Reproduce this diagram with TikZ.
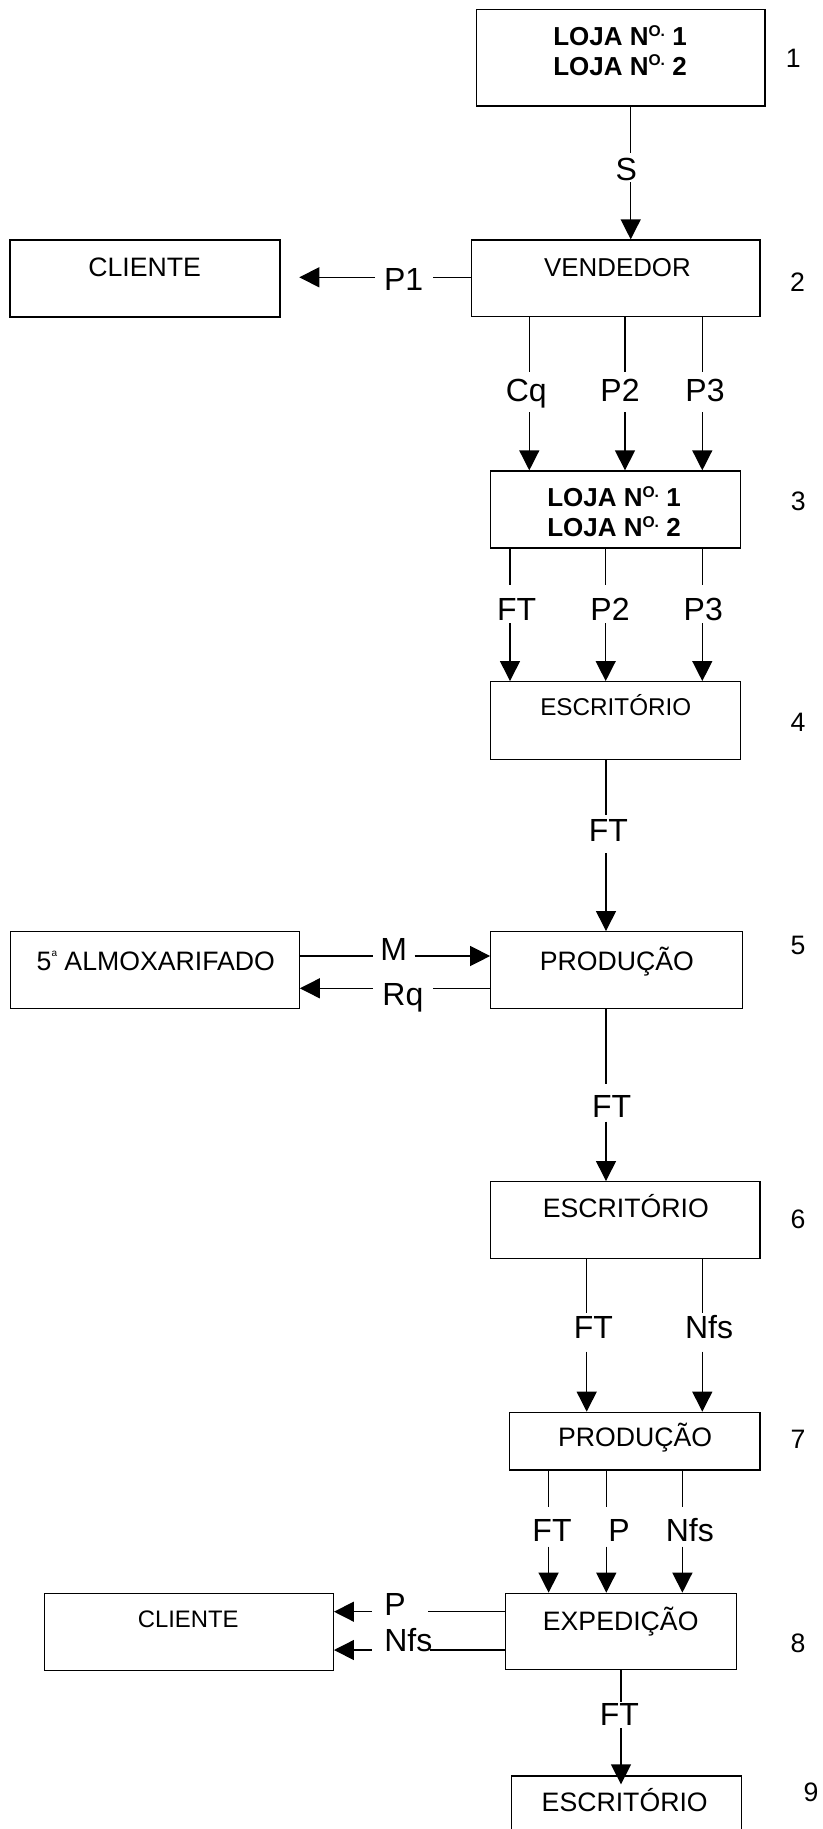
\documentclass[tikz,border=0pt]{standalone}
\usepackage{fontspec}
\setmainfont{Liberation Sans}
\usetikzlibrary{arrows.meta,fit}
\newcommand\nsup[1]{\raisebox{0.35em}{\fontsize{11.7pt}{12pt}\selectfont #1}}
\newcommand\ordsup[1]{\raisebox{0.52em}{\fontsize{7.5pt}{8pt}\selectfont #1}}
\begin{document}
\begin{tikzpicture}[x=0.75pt,y=-0.75pt,
  box/.style={draw, line width=1pt, inner sep=0pt, rectangle},
  wire/.style={line width=1pt},
  arr/.style={line width=1pt, -{Triangle[width=15pt,length=15pt]}},
  btxt/.style={inner sep=0pt, anchor=base, font=\fontsize{20pt}{24pt}\selectfont},
  ltxtb/.style={inner sep=0pt, anchor=base, font=\bfseries\fontsize{19.5pt}{22pt}\selectfont},
  ltxt/.style={inner sep=0pt, anchor=base, font=\fontsize{24pt}{28pt}\selectfont},
  ntxt/.style={inner sep=0pt, anchor=center, font=\fontsize{20pt}{24pt}\selectfont}]
\useasboundingbox (0,0) rectangle (823,1829);

% ---------- boxes ----------
\node[box, fit={(476.7,9.3) (765,106)}] (b1) {};
\node[box, fit={(471.7,240) (760,316.7)}] (b2) {};
\node[box, fit={(10,240) (280,317)}] (cl1) {};
\node[box, fit={(490.7,471) (740.7,548)}] (b3) {};
\node[box, fit={(490.7,681.7) (740.7,759.3)}] (b4) {};
\node[box, fit={(10.5,931.7) (299.2,1008.3)}] (alm) {};
\node[box, fit={(490.8,931.7) (742.8,1008.3)}] (b5) {};
\node[box, fit={(490.7,1181.7) (760,1258.3)}] (b6) {};
\node[box, fit={(509.2,1412.3) (760.1,1470)}] (b7) {};
\node[box, fit={(505.5,1593.3) (736.5,1669.3)}] (b8) {};
\node[box, fit={(44.6,1593.3) (333.3,1670.7)}] (cl2) {};
\node[box, fit={(511.8,1776) (741.7,1860)}] (b9) {};

% ---------- box texts ----------
\node[ltxtb] (b1t1) at (620,45.7) {LOJA N\nsup{O.} 1};
\node[ltxtb] (b1t2) at (620,75) {LOJA N\nsup{O.} 2};
\node[btxt, font=\fontsize{19.4pt}{24pt}\selectfont] (b2t) at (617.5,276.7) {VENDEDOR};
\node[btxt] (cl1t) at (144.7,276) {CLIENTE};
\node[ltxtb] (b3t1) at (614,506.7) {LOJA N\nsup{O.} 1};
\node[ltxtb] (b3t2) at (614,536.7) {LOJA N\nsup{O.} 2};
\node[btxt, font=\fontsize{18.2pt}{22pt}\selectfont] (b4t) at (615.8,715) {ESCRITÓRIO};
\node[btxt] (almt) at (155.8,970) {5\ordsup{a} ALMOXARIFADO};
\node[btxt] (b5t) at (616.8,970) {PRODUÇÃO};
\node[btxt] (b6t) at (625.8,1217) {ESCRITÓRIO};
\node[btxt] (b7t) at (635.2,1446.7) {PRODUÇÃO};
\node[btxt] (b8t) at (620.7,1630) {EXPEDIÇÃO};
\node[btxt, font=\fontsize{17.9pt}{22pt}\selectfont] (cl2t) at (188.2,1627) {CLIENTE};
\node[btxt] (b9t) at (624.7,1811.7) {ESCRITÓRIO};

% ---------- step numbers ----------
\node[ntxt] (n1) at (793.3,58.3) {1};
\node[ntxt] (n2) at (797.5,282.5) {2};
\node[ntxt] (n3) at (798.3,501) {3};
\node[ntxt] (n4) at (798,722.5) {4};
\node[ntxt] (n5) at (798,945) {5};
\node[ntxt] (n6) at (798,1219) {6};
\node[ntxt] (n7) at (798,1439) {7};
\node[ntxt] (n8) at (798,1643) {8};
\node[ntxt] (n9) at (811,1792.5) {9};

% ---------- flow labels ----------
\node[ltxt] (lS) at (626.3,180) {S};
\node[ltxt] (lP1) at (403.7,290) {P1};
\node[ltxt] (lCq) at (526.3,401.5) {Cq};
\node[ltxt] (lP2a) at (620,401.5) {P2};
\node[ltxt] (lP3a) at (705,401.5) {P3};
\node[ltxt] (lFTa) at (516.7,620.5) {FT};
\node[ltxt] (lP2b) at (610,620.5) {P2};
\node[ltxt] (lP3b) at (703.3,620.5) {P3};
\node[ltxt] (lFTb) at (608.3,841.7) {FT};
\node[ltxt] (lM) at (393.7,960) {M};
\node[ltxt] (lRq) at (402.9,1005) {Rq};
\node[ltxt] (lFTc) at (611.7,1117.3) {FT};
\node[ltxt] (lFTd) at (593.3,1338.3) {FT};
\node[ltxt] (lNfsa) at (709,1338.3) {Nfs};
\node[ltxt] (lFTe) at (552,1541.7) {FT};
\node[ltxt] (lPa) at (619,1541.7) {P};
\node[ltxt] (lNfsb) at (689.8,1541.7) {Nfs};
\node[ltxt] (lPb) at (395,1615) {P};
\node[ltxt] (lNfsc) at (408.3,1651.7) {Nfs};
\node[ltxt] (lFTf) at (619.4,1725) {FT};

% ---------- gap coordinates ----------
\coordinate (sA) at (630.7,153);   \coordinate (sB) at (630.7,182);
\coordinate (cqA) at (529.3,372);  \coordinate (cqB) at (529.3,412);
\coordinate (p2A) at (625,372);    \coordinate (p2B) at (625,412);
\coordinate (p3A) at (702.3,372);  \coordinate (p3B) at (702.3,412);
\coordinate (ftA) at (510,585);    \coordinate (ftB) at (510,623);
\coordinate (q2A) at (605.7,585);  \coordinate (q2B) at (605.7,623);
\coordinate (q3A) at (702.3,585);  \coordinate (q3B) at (702.3,623);
\coordinate (f4A) at (606,815);    \coordinate (f4B) at (606,853.3);
\coordinate (f5A) at (606,1084.3); \coordinate (f5B) at (606,1121.7);
\coordinate (f6A) at (586.7,1313.3); \coordinate (f6B) at (586.7,1351.7);
\coordinate (n6A) at (702.3,1313.3); \coordinate (n6B) at (702.3,1351.7);
\coordinate (f7A) at (548.6,1506.7); \coordinate (f7B) at (548.6,1546.7);
\coordinate (p7A) at (606.3,1506.7); \coordinate (p7B) at (606.3,1546.7);
\coordinate (n7A) at (682.4,1506.7); \coordinate (n7B) at (682.4,1546.7);
\coordinate (f8A) at (621,1701.7); \coordinate (f8B) at (621,1728.3);
\coordinate (p1A) at (433.3,277.3); \coordinate (p1B) at (375,277.3);
\coordinate (p1T) at (299.3,277.3);
\coordinate (mA) at (372.7,956);   \coordinate (mB) at (414.7,956);
\coordinate (rqA) at (433,988.3);  \coordinate (rqB) at (372.7,988.3);
\coordinate (pA) at (428.3,1611.7); \coordinate (pB) at (371.7,1611.7);
\coordinate (nA) at (430,1650);    \coordinate (nB) at (371.7,1650);

% ---------- connectors ----------
\draw[wire] (b1.south -| sA) -- (sA);
\draw[arr] (sB) -- (b2.north -| sB);

\draw[wire] (b2.west |- p1A) -- (p1A);
\draw[arr] (p1B) -- (p1T);

\draw[wire] (b2.south -| cqA) -- (cqA);
\draw[arr] (cqB) -- (b3.north -| cqB);
\draw[wire] (b2.south -| p2A) -- (p2A);
\draw[arr] (p2B) -- (b3.north -| p2B);
\draw[wire] (b2.south -| p3A) -- (p3A);
\draw[arr] (p3B) -- (b3.north -| p3B);

\draw[wire] (b3.south -| ftA) -- (ftA);
\draw[arr] (ftB) -- (b4.north -| ftB);
\draw[wire] (b3.south -| q2A) -- (q2A);
\draw[arr] (q2B) -- (b4.north -| q2B);
\draw[wire] (b3.south -| q3A) -- (q3A);
\draw[arr] (q3B) -- (b4.north -| q3B);

\draw[wire] (b4.south -| f4A) -- (f4A);
\draw[arr] (f4B) -- (b5.north -| f4B);

\draw[wire] (alm.east |- mA) -- (mA);
\draw[arr] (mB) -- (b5.west |- mB);
\draw[wire] (b5.west |- rqA) -- (rqA);
\draw[arr] (rqB) -- (alm.east |- rqB);

\draw[wire] (b5.south -| f5A) -- (f5A);
\draw[arr] (f5B) -- (b6.north -| f5B);

\draw[wire] (b6.south -| f6A) -- (f6A);
\draw[arr] (f6B) -- (b7.north -| f6B);
\draw[wire] (b6.south -| n6A) -- (n6A);
\draw[arr] (n6B) -- (b7.north -| n6B);

\draw[wire] (b7.south -| f7A) -- (f7A);
\draw[arr] (f7B) -- (b8.north -| f7B);
\draw[wire] (b7.south -| p7A) -- (p7A);
\draw[arr] (p7B) -- (b8.north -| p7B);
\draw[wire] (b7.south -| n7A) -- (n7A);
\draw[arr] (n7B) -- (b8.north -| n7B);

\draw[wire] (b8.west |- pA) -- (pA);
\draw[arr] (pB) -- (cl2.east |- pB);
\draw[wire] (b8.west |- nA) -- (nA);
\draw[arr] (nB) -- (cl2.east |- nB);

\draw[wire] (b8.south -| f8A) -- (f8A);
\draw[arr, shorten >=-6.75pt] (f8B) -- (b9.north -| f8B);
\end{tikzpicture}
\end{document}
